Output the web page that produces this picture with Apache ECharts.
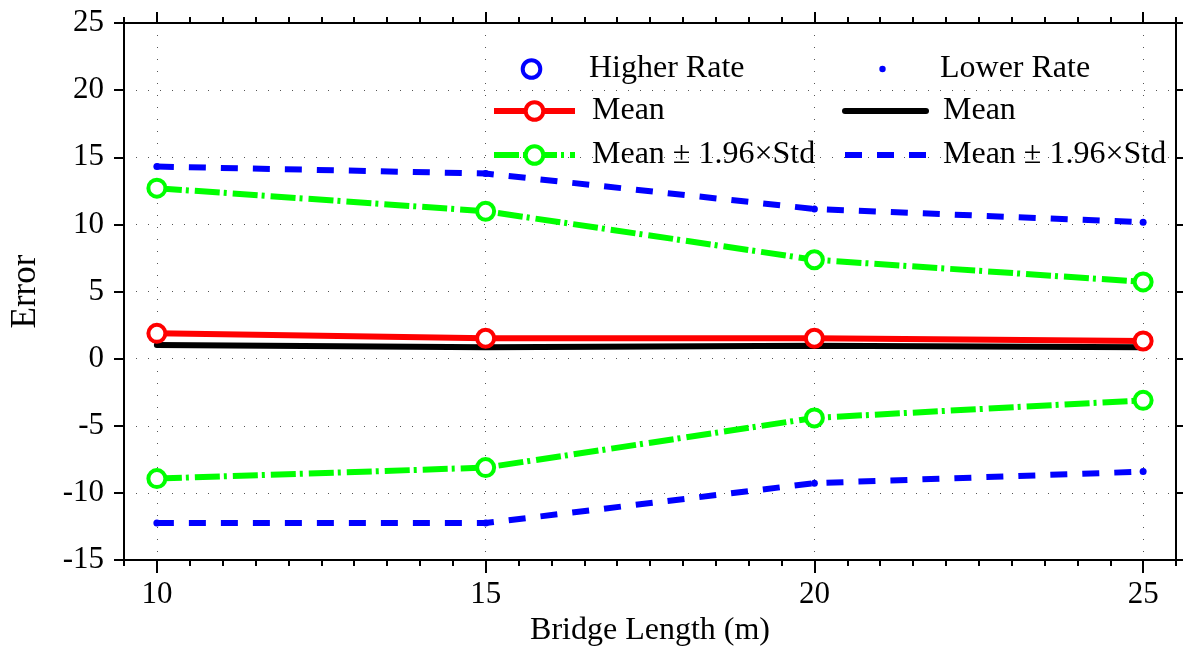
<!DOCTYPE html>
<html>
<head>
<meta charset="utf-8">
<script src="https://cdn.jsdelivr.net/npm/echarts@6/dist/echarts.min.js"></script>
<style>
  html, body { margin: 0; padding: 0; background: #fff; }
  #chart { width: 1183px; height: 652px; }
</style>
</head>
<body>
<div id="chart"></div>
<script>
// ---------- data ----------
const bridgeLengths = [10, 15, 20, 25];
const majorTicks = [10, 15, 20, 25];
const higherMean  = [1.89, 1.52, 1.52, 1.32];
const higherUpper = [12.7, 10.98, 7.37, 5.72];
const higherLower = [-8.93, -8.11, -4.41, -3.1];
const lowerMean   = [1.02, 0.85, 0.96, 0.85];
const lowerUpper  = [14.31, 13.79, 11.15, 10.16];
const lowerLower  = [-12.24, -12.24, -9.27, -8.41];
const legendLabels = {
  'Higher Rate': 'Higher Rate',
  'Lower Rate': 'Lower Rate',
  'Mean (H)': 'Mean',
  'Mean (L)': 'Mean',
  'Band (H)': 'Mean ± 1.96×Std',
  'Band (L)': 'Mean ± 1.96×Std'
};

// ---------- helpers ----------
const FONT = "'Liberation Serif', 'Times New Roman', serif";
const pairs = (xs, ys) => xs.map((x, i) => [x, ys[i]]);
const RED = '#ff0000', GREEN = '#00ff00', BLUE = '#0000ff', BLACK = '#000000';
const LW = 6;
const ringStyle = c => ({ color: '#ffffff', borderColor: c, borderWidth: 4 });
const legendText = { fontFamily: FONT, fontSize: 32, color: '#000', padding: [0, 0, 0, 12] };

function legendBox(name, left, top, extra) {
  return Object.assign({
    data: [name],
    left: left, top: top,
    orient: 'horizontal',
    padding: 0,
    itemWidth: 81, itemHeight: 22,
    selectedMode: false,
    formatter: n => legendLabels[n],
    textStyle: legendText
  }, extra || {});
}

const chart = echarts.init(document.getElementById('chart'), null, { renderer: 'canvas' });

const xCommon = { type: 'value', min: 9.5, max: 25.5, gridIndex: 0 };
const axisLineStyle = { color: '#000', width: 2 };
const gridLine = { show: true, lineStyle: { color: '#555', width: 1, type: [1, 11] } };

const option = {
  animation: false,
  backgroundColor: '#ffffff',
  grid: { left: 121, right: 7, top: 23, bottom: 89, containLabel: false },
  xAxis: [
    Object.assign({}, xCommon, {
      position: 'bottom',
      name: 'Bridge Length (m)', nameLocation: 'middle', nameGap: 50,
      nameTextStyle: { fontFamily: FONT, fontSize: 32, color: '#000' },
      axisLine: { show: true, onZero: false, lineStyle: axisLineStyle },
      axisTick: { show: true, inside: false, length: 13, customValues: majorTicks, lineStyle: { color: '#000', width: 2 } },
      axisLabel: { show: true, customValues: majorTicks, margin: 19, fontFamily: FONT, fontSize: 31, color: '#000' },
      splitLine: gridLine
    }),
    Object.assign({}, xCommon, {
      position: 'bottom', interval: 0.5,
      axisLine: { show: false, onZero: false },
      axisTick: { show: true, inside: false, length: 6, lineStyle: { color: '#000', width: 2 } },
      axisLabel: { show: false }, splitLine: { show: false }
    }),
    Object.assign({}, xCommon, {
      position: 'top', interval: 0.5,
      axisLine: { show: true, onZero: false, lineStyle: axisLineStyle },
      axisTick: { show: true, inside: false, length: 6, lineStyle: { color: '#000', width: 2 } },
      axisLabel: { show: false }, splitLine: { show: false }
    }),
    Object.assign({}, xCommon, {
      position: 'top',
      axisLine: { show: false, onZero: false },
      axisTick: { show: true, inside: false, length: 11, customValues: majorTicks, lineStyle: { color: '#000', width: 2 } },
      axisLabel: { show: false }, splitLine: { show: false }
    })
  ],
  yAxis: [
    {
      type: 'value', min: -15, max: 25, interval: 5, position: 'left',
      name: 'Error', nameLocation: 'middle', nameGap: 81, nameRotate: 90,
      nameTextStyle: { fontFamily: FONT, fontSize: 35, color: '#000' },
      axisLine: { show: true, onZero: false, lineStyle: axisLineStyle },
      axisTick: { show: true, inside: false, length: 10, lineStyle: { color: '#000', width: 2 } },
      axisLabel: { show: true, margin: 20, fontFamily: FONT, fontSize: 31, color: '#000' },
      splitLine: gridLine
    },
    {
      type: 'value', min: -15, max: 25, interval: 5, position: 'right',
      axisLine: { show: true, onZero: false, lineStyle: axisLineStyle },
      axisTick: { show: true, inside: false, length: 8, lineStyle: { color: '#000', width: 2 } },
      axisLabel: { show: false }, splitLine: { show: false }
    }
  ],
  legend: [
    legendBox('Higher Rate', 491, 53, { itemStyle: { borderWidth: 4 }, lineStyle: { opacity: 0 } }),
    legendBox('Lower Rate', 842, 53, { itemHeight: 8, lineStyle: { opacity: 0 } }),
    legendBox('Mean (H)', 491, 95, { itemStyle: { borderWidth: 4 }, lineStyle: { width: LW } }),
    legendBox('Mean (L)', 842, 95, { itemStyle: { opacity: 0 }, lineStyle: { width: LW } }),
    legendBox('Band (H)', 491, 139, { itemStyle: { borderWidth: 4 }, lineStyle: { width: LW } }),
    legendBox('Band (L)', 842, 139, { itemStyle: { opacity: 0 }, lineStyle: { width: LW } })
  ],
  series: [
    { name: 'Higher Rate', type: 'line', data: [], symbol: 'circle', symbolSize: 16,
      itemStyle: ringStyle(BLUE), lineStyle: { color: BLUE, width: 0, opacity: 0 } },
    { name: 'Lower Rate', type: 'line', data: [], symbol: 'circle', symbolSize: 7,
      itemStyle: { color: BLUE }, lineStyle: { color: BLUE, width: 0, opacity: 0 } },
    { name: 'Mean (L)', type: 'line', data: pairs(bridgeLengths, lowerMean), symbol: 'none',
      itemStyle: { color: BLACK }, lineStyle: { color: BLACK, width: LW, cap: 'round' }, z: 2 },
    { name: 'Band (L)', type: 'line', data: pairs(bridgeLengths, lowerUpper), symbol: 'circle', symbolSize: 7,
      itemStyle: { color: BLUE }, lineStyle: { color: BLUE, width: LW, type: [17, 15] }, z: 2 },
    { name: 'Band (L)', type: 'line', data: pairs(bridgeLengths, lowerLower), symbol: 'circle', symbolSize: 7,
      itemStyle: { color: BLUE }, lineStyle: { color: BLUE, width: LW, type: [17, 15] }, z: 2 },
    { name: 'Mean (H)', type: 'line', data: pairs(bridgeLengths, higherMean), symbol: 'circle', symbolSize: 17,
      itemStyle: ringStyle(RED), lineStyle: { color: RED, width: LW }, z: 3 },
    { name: 'Band (H)', type: 'line', data: pairs(bridgeLengths, higherUpper), symbol: 'circle', symbolSize: 17,
      itemStyle: ringStyle(GREEN), lineStyle: { color: GREEN, width: LW, type: [25, 4, 3, 6] }, z: 3 },
    { name: 'Band (H)', type: 'line', data: pairs(bridgeLengths, higherLower), symbol: 'circle', symbolSize: 17,
      itemStyle: ringStyle(GREEN), lineStyle: { color: GREEN, width: LW, type: [25, 4, 3, 6] }, z: 3 }
  ]
};
chart.setOption(option);
</script>
</body>
</html>
